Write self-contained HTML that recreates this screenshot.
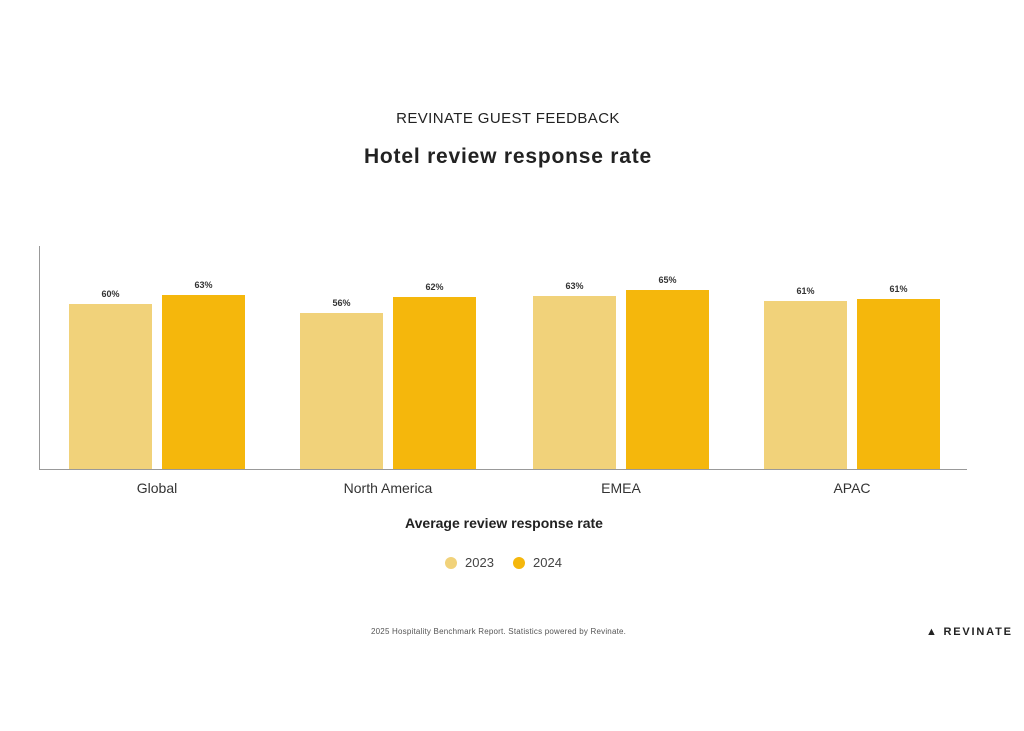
<!DOCTYPE html>
<html><head><style>
body{margin:0;width:1024px;height:731px;background:#fff;position:relative;font-family:"Liberation Sans",sans-serif;overflow:hidden}
.a{position:absolute}
.b{position:absolute;width:83px;bottom:262px}
.l{background:#f1d27a}.d{background:#f5b70c}
.v{position:absolute;width:83px;text-align:center;font-size:9px;font-weight:bold;color:#333}
.x{position:absolute;width:200px;text-align:center;font-size:14px;color:#333;top:480px}
</style></head><body>
<div class="a" style="left:0;width:1016px;top:110px;text-align:center;font-size:15px;letter-spacing:0.4px;color:#222">REVINATE GUEST FEEDBACK</div>
<div class="a" style="left:0;width:1016px;top:145px;text-align:center;font-size:21px;letter-spacing:0.8px;font-weight:bold;color:#222">Hotel review response rate</div>
<div class="a" style="left:39px;top:246px;width:1px;height:224px;background:#999"></div>
<div class="a" style="left:39px;top:469px;width:928px;height:1px;background:#999"></div>

<div class="b l" style="left:69px;top:304px"></div><div class="v" style="left:69px;top:289px">60%</div>
<div class="b d" style="left:162px;top:295px"></div><div class="v" style="left:162px;top:280px">63%</div>
<div class="b l" style="left:300px;top:313px"></div><div class="v" style="left:300px;top:298px">56%</div>
<div class="b d" style="left:393px;top:297px"></div><div class="v" style="left:393px;top:282px">62%</div>
<div class="b l" style="left:533px;top:296px"></div><div class="v" style="left:533px;top:281px">63%</div>
<div class="b d" style="left:626px;top:290px"></div><div class="v" style="left:626px;top:275px">65%</div>
<div class="b l" style="left:764px;top:301px"></div><div class="v" style="left:764px;top:286px">61%</div>
<div class="b d" style="left:857px;top:299px"></div><div class="v" style="left:857px;top:284px">61%</div>

<div class="x" style="left:57px">Global</div>
<div class="x" style="left:288px">North America</div>
<div class="x" style="left:521px">EMEA</div>
<div class="x" style="left:752px">APAC</div>

<div class="a" style="left:0;width:1008px;top:515px;text-align:center;font-size:14px;font-weight:bold;color:#222">Average review response rate</div>
<div class="a" style="left:445px;top:557px;width:12px;height:12px;border-radius:50%;background:#f1d27a"></div>
<div class="a" style="left:465px;top:555px;font-size:13px;color:#444">2023</div>
<div class="a" style="left:513px;top:557px;width:12px;height:12px;border-radius:50%;background:#f5b70c"></div>
<div class="a" style="left:533px;top:555px;font-size:13px;color:#444">2024</div>

<div class="a" style="left:371px;top:627px;font-size:8px;letter-spacing:0.2px;color:#555">2025 Hospitality Benchmark Report. Statistics powered by Revinate.</div>
<div class="a" style="left:926px;top:626px;font-size:11px;font-weight:bold;color:#222;letter-spacing:1.8px">&#9650; REVINATE</div>
</body></html>
